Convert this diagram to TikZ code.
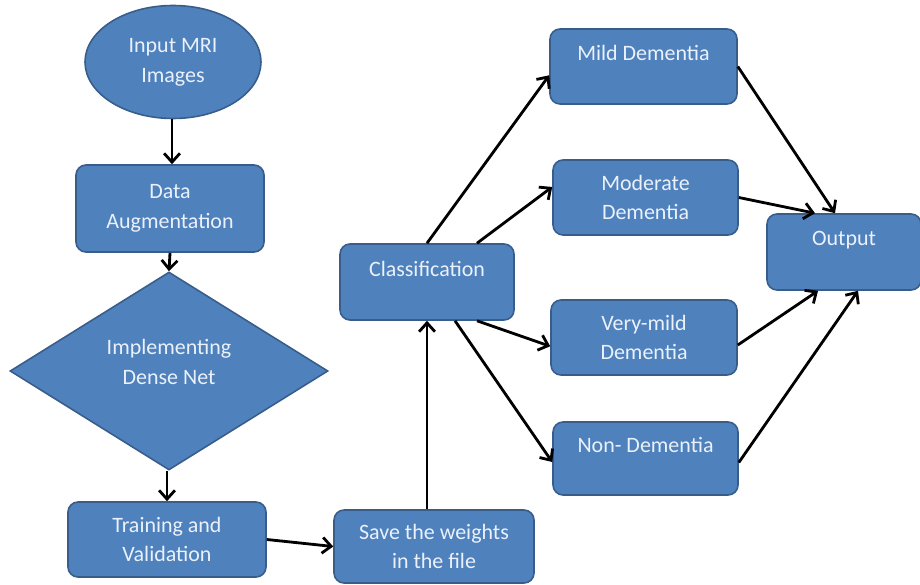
\documentclass[tikz,border=0pt]{standalone}
\usepackage{fontspec}
\setmainfont{Carlito}
\usetikzlibrary{arrows.meta, calc, shapes.geometric, positioning}
\definecolor{boxfill}{HTML}{4F81BD}
\definecolor{boxline}{HTML}{385D8A}
\definecolor{boxtext}{HTML}{EAF1FB}

\begin{document}
\begin{tikzpicture}[>={Straight Barb[length=5pt,width=9pt,line width=1.6pt]},
                    every node/.style={font=\fontsize{12.5}{17}\selectfont, text=boxtext},
                    box/.style={rectangle, rounded corners=0.2cm, draw=boxline, line width=0.9pt,
                                fill=boxfill, align=center, minimum width=3.7cm, minimum height=1.5cm},
                    uptext/.style={text depth=15pt},
                    flow/.style={->, line width=1.6pt, draw=black}
                ]
                \useasboundingbox (0,0) rectangle (18.4,-11.7);
                \node[ellipse, draw=boxline, line width=0.9pt, fill=boxfill, align=center,
                      minimum width=3.52cm, minimum height=2.26cm] (input) at (3.46,-1.24) {Input MRI\\Images};
                \node[box, minimum width=3.76cm, minimum height=1.74cm] (aug) at (3.40,-4.17) {Data\\Augmentation};
                \node[diamond, draw=boxline, line width=0.9pt, fill=boxfill, align=center, inner sep=0pt,
                      minimum width=6.36cm, minimum height=3.96cm] (dense) at (3.38,-7.42) {Implementing\\Dense Net\\[-7pt]};
                \node[box, minimum width=3.96cm] (train) at (3.34,-10.79) {Training and\\Validation};
                \node[box, minimum width=4.0cm, minimum height=1.46cm] (save) at (8.68,-10.93) {Save the weights\\in the file};
                \node[box, uptext, minimum width=3.48cm, minimum height=1.52cm] (class) at (8.54,-5.64) {Classification};
                \node[box, uptext, minimum width=3.74cm] (mild) at (12.87,-1.33) {Mild Dementia};
                \node[box] (moderate) at (12.91,-3.95) {Moderate\\Dementia};
                \node[box, minimum width=3.72cm] (verymild) at (12.88,-6.75) {Very-mild\\Dementia};
                \node[box, uptext, minimum height=1.46cm] (non) at (12.91,-9.17) {Non- Dementia};
                \node[box, uptext, minimum width=3.08cm, minimum height=1.52cm] (output) at (16.88,-5.04) {Output};

                \draw[flow] ([xshift=0.04cm]aug.north |- input.south) -- ([xshift=0.04cm]aug.north);
                \draw[flow] (aug.south) -- (dense.north);
                \draw[flow] (train.north |- dense.south) -- (train.north);
                \draw[flow] (train.east) -- (save.west);
                \draw[flow] (class.south |- save.north) -- (class.south);
                \draw[flow] (class.north) -- ([yshift=-5pt]mild.west);
                \draw[flow] ([xshift=1cm]class.north) -- ([yshift=6pt]moderate.west);
                \draw[flow] ([xshift=1cm]class.south) -- ([yshift=-5pt]verymild.west);
                \draw[flow] ([xshift=0.56cm]class.south) -- ([yshift=-2pt]non.west);
                \draw[flow] (mild.east) -- ([xshift=-0.18cm]output.north);
                \draw[flow] (moderate.east) -- ([xshift=-0.58cm]output.north);
                \draw[flow] ([yshift=-0.15cm]verymild.east) -- ([xshift=-0.52cm]output.south);
                \draw[flow] ([yshift=-0.08cm]non.east) -- ([xshift=0.28cm]output.south);
            \end{tikzpicture}
\end{document}
